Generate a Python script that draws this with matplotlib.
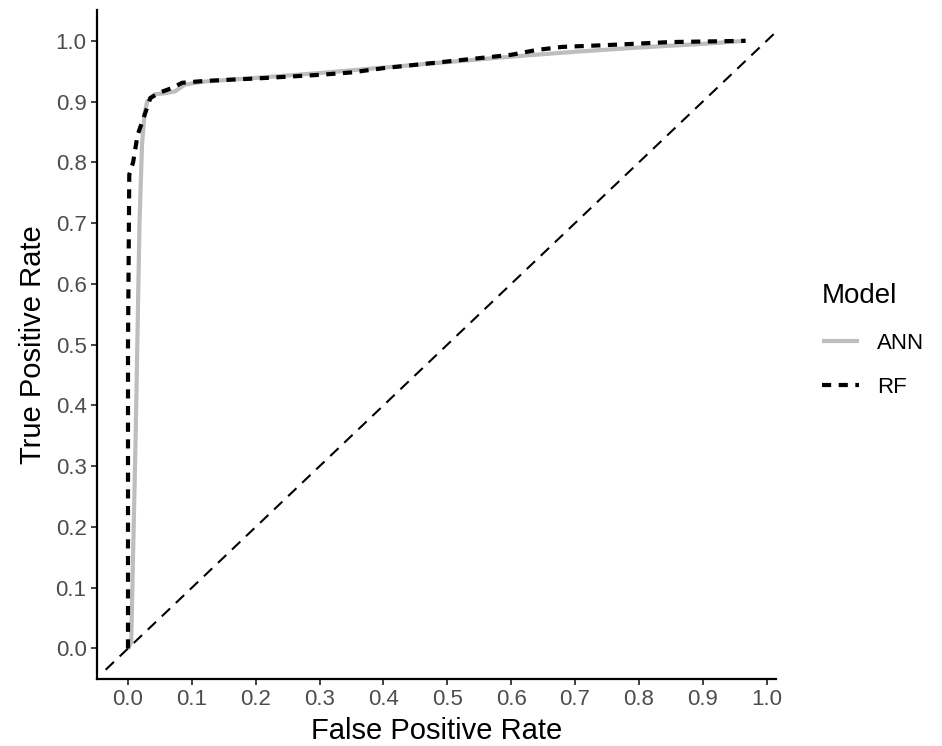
import matplotlib
matplotlib.use("Agg")
from matplotlib import pyplot as plt

# ROC curves
ann_fpr = [0.0, 0.005, 0.012, 0.018, 0.022, 0.026, 0.030, 0.042, 0.060, 0.074, 0.089, 0.12, 0.2, 0.3, 0.4, 0.5, 0.6, 0.7, 0.8, 0.9, 0.967]
ann_tpr = [0.0, 0.01, 0.35, 0.70, 0.83, 0.88, 0.90, 0.912, 0.914, 0.917, 0.928, 0.933, 0.939, 0.947, 0.956, 0.965, 0.974, 0.982, 0.989, 0.995, 1.0]

rf_fpr = [0.0, 0.0, 0.002, 0.008, 0.015, 0.025, 0.035, 0.05, 0.068, 0.085, 0.12, 0.2, 0.3, 0.35, 0.4, 0.5, 0.6, 0.64, 0.68, 0.75, 0.85, 0.967]
rf_tpr = [0.0, 0.5, 0.78, 0.80, 0.845, 0.875, 0.906, 0.915, 0.922, 0.931, 0.934, 0.938, 0.944, 0.948, 0.955, 0.966, 0.977, 0.985, 0.99, 0.993, 0.998, 1.0]

ticks = [i / 10 for i in range(11)]
tick_labels = ["%.1f" % t for t in ticks]

plt.rcParams['font.family'] = ['Liberation Sans', 'DejaVu Sans']

fig = plt.figure(figsize=(9.42, 7.46), dpi=100)
ax = fig.add_axes([0.103, 0.090, 0.721, 0.896])

ax.plot(ann_fpr, ann_tpr, color="#BEBEBE", lw=3, label="ANN", solid_capstyle="butt", zorder=2)
ax.plot(rf_fpr, rf_tpr, color="black", lw=3, dashes=(2.2, 1.8), label="RF", zorder=3)
ax.plot([-0.035, 1.1], [-0.035, 1.1], color="black", lw=1.5, dashes=(5.5, 3.8), zorder=1)

ax.set_xlim(-0.0485, 1.015)
ax.set_ylim(-0.05, 1.05)
ax.set_xticks(ticks)
ax.set_xticklabels(tick_labels)
ax.set_yticks(ticks)
ax.set_yticklabels(tick_labels)

for s in ["top", "right"]:
    ax.spines[s].set_visible(False)
for s in ["left", "bottom"]:
    ax.spines[s].set_linewidth(1.6)
    ax.spines[s].set_color("black")

ax.tick_params(axis="both", length=4.5, width=1.3, color="#333333", labelcolor="#4D4D4D", labelsize=16, pad=3)

ax.set_xlabel("False Positive Rate", fontsize=21, labelpad=5)
ax.set_ylabel("True Positive Rate", fontsize=21, labelpad=6)

leg = ax.legend(title="Model", loc="upper left", bbox_to_anchor=(0.851, 0.647), bbox_transform=fig.transFigure,
                frameon=False, fontsize=16, title_fontsize=20, handlelength=1.7, handletextpad=0.8,
                labelspacing=1.05)
leg._legend_box.align = "left"

fig.savefig("out.png", dpi=100)
